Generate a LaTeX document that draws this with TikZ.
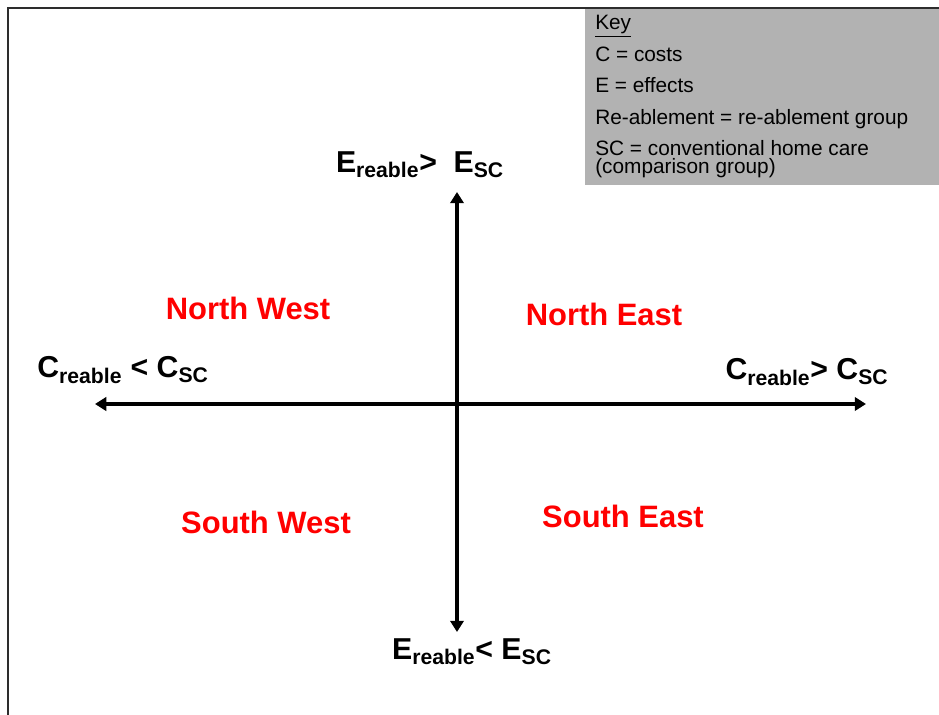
\documentclass[tikz,border=0pt]{standalone}
\usepackage{fontspec}
\setmainfont{Liberation Sans}
\usepackage{xcolor}
\usepackage{tikz}
\usetikzlibrary{arrows.meta}

\definecolor{keygray}{RGB}{178,178,178}
\definecolor{framegray}{RGB}{45,45,45}

\tikzset{
  quadrant/.style={text=red,font=\fontsize{22}{26}\selectfont\bfseries},
  axislabel/.style={font=\fontsize{21.5}{25}\selectfont\bfseries},
  keytext/.style={anchor=base west,inner sep=0pt,font=\fontsize{14.8}{16}\selectfont},
  axisline/.style={line width=2.6pt,{Triangle[length=8pt,width=9.5pt]}-{Triangle[length=8pt,width=9.5pt]}}
}

\begin{document}
\begin{tikzpicture}[x=0.025cm,y=-0.025cm]
                    \useasboundingbox (0,0) rectangle (939,715);
                    \fill[keygray] (585,9) rectangle (939,185);
                    \draw[framegray,line width=1.5pt] (8,715) -- (8,8) -- (939,8);

                    \node[keytext] (key) at (595,30) {\underline{Key}};
                    \node[keytext] (kc) at (595,62) {C = costs};
                    \node[keytext] (ke) at (595,93) {E = effects};
                    \node[keytext] (kre) at (595,125) {Re-ablement = re-ablement group};
                    \node[keytext] (ksc) at (595,156) {SC = conventional home care};
                    \node[keytext] (ksc2) at (595,174) {(comparison group)};

                    \coordinate (west) at (95,404);
                    \coordinate (east) at (866,404);
                    \coordinate (north) at (457,192);
                    \coordinate (south) at (457,632);
                    \draw[axisline] (west) -- (east);
                    \draw[axisline] (south) -- (north);

                    \node[axislabel] (etop) at (420,165) {E\textsubscript{reable}>\ \ E\textsubscript{SC}};
                    \node[axislabel] (ebot) at (472,652) {E\textsubscript{reable}< E\textsubscript{SC}};
                    \node[axislabel] (cleft) at (123,370) {C\textsubscript{reable} < C\textsubscript{SC}};
                    \node[axislabel] (cright) at (807,372) {C\textsubscript{reable}> C\textsubscript{SC}};

                    \node[quadrant] (nw) at (248,308) {North West};
                    \node[quadrant] (ne) at (604,314) {North East};
                    \node[quadrant] (sw) at (266,522) {South West};
                    \node[quadrant] (se) at (623,516) {South East};
                \end{tikzpicture}
\end{document}
